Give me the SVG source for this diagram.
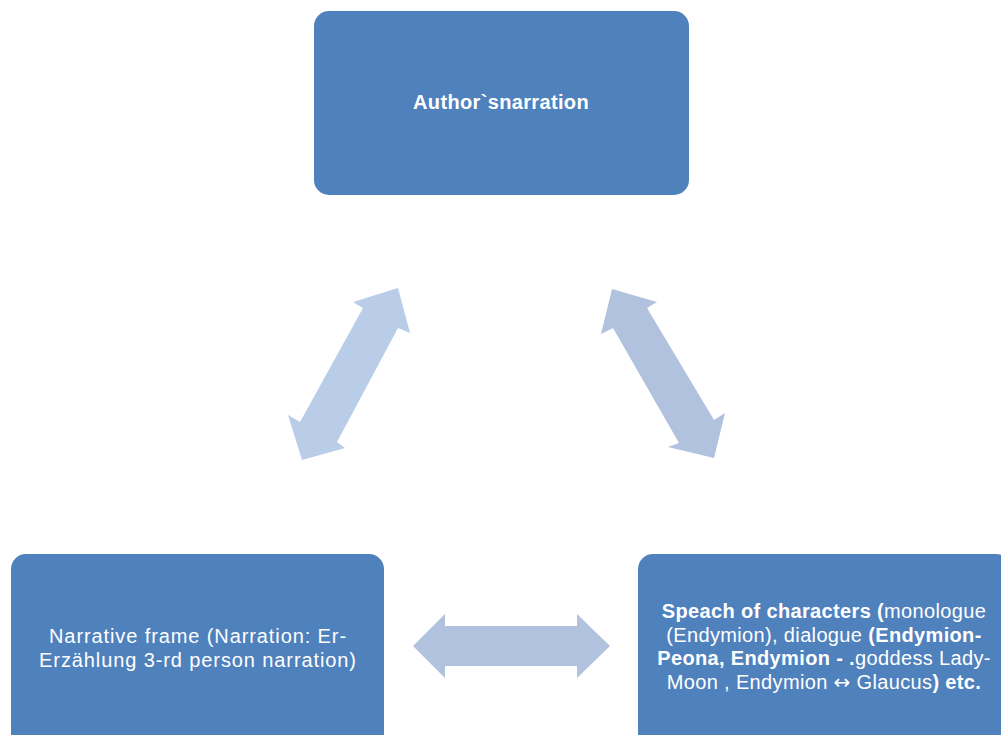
<svg xmlns="http://www.w3.org/2000/svg" width="1001" height="735" viewBox="0 0 1001 735">
<style>
.box{fill:#4F81BD;}
.t{font-family:"Liberation Sans",Arial,sans-serif;font-size:20px;letter-spacing:0.35px;fill:#FFFFFF;text-anchor:middle;}
.w{letter-spacing:0.9px;}
.b{font-weight:bold;}
.sym{font-family:"DejaVu Sans",sans-serif;}
.a1{fill:#B9CDE9;}
.a2{fill:#B0C2DE;}
</style>
<rect width="1001" height="735" fill="#FFFFFF"/>
<g id="connectors">
<polygon class="a1" points="398,288 410,333 398,328 337,442 345,448 302,460 288,415 300,422 363,308 353,302"/>
<polygon class="a2" points="612,289 657,302 647,308 714,420 725,413 714,458 668,447 679,443 613,328 601,334"/>
<polygon class="a2" points="413,646 445,614 445,626 577,626 577,614 610,646 577,678 577,666 445,666 445,678"/>
</g>
<g id="node-author">
<rect class="box" x="314" y="11" width="375" height="184" rx="15" ry="15"/>
<text class="t b" x="501" y="109">Author`snarration</text>
</g>
<g id="node-narrative">
<rect class="box" x="11" y="554" width="373" height="200" rx="15" ry="15"/>
<text class="t w" x="198" y="643">Narrative frame (Narration: Er-</text>
<text class="t w" x="198" y="667">Erzählung 3-rd person narration)</text>
</g>
<g id="node-speech">
<rect class="box" x="638" y="554" width="373" height="200" rx="15" ry="15"/>
<text class="t" x="824" y="618"><tspan class="b">Speach of characters (</tspan>monologue</text>
<text class="t" x="824" y="642">(Endymion), dialogue <tspan class="b">(Endymion-</tspan></text>
<text class="t" x="824" y="665"><tspan class="b">Peona, Endymion - .</tspan>goddess Lady-</text>
<text class="t" x="824" y="689">Moon , Endymion <tspan class="sym">↔</tspan> Glaucus<tspan class="b">) etc.</tspan></text>
</g>
</svg>
